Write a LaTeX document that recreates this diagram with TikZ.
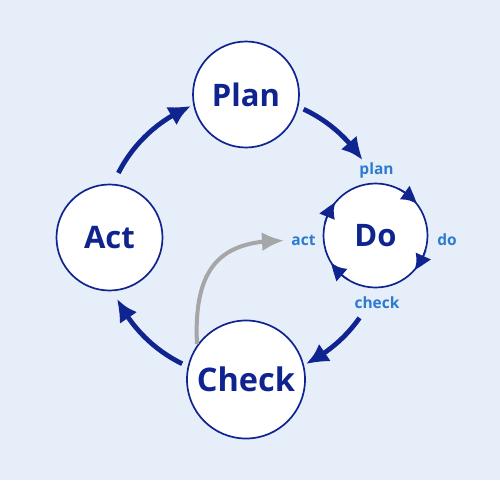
\documentclass[tikz,border=0pt]{standalone}
\usepackage{fontspec}
\setmainfont{Open Sans}
\usetikzlibrary{arrows.meta,bending}
\definecolor{bg}{HTML}{E6EEFA}
\definecolor{navy}{HTML}{102490}
\definecolor{lblue}{HTML}{2C7BD0}
\definecolor{arrgray}{HTML}{A6A6A6}
\begin{document}
\begin{tikzpicture}[x=1pt,y=1pt,
  phase/.style={circle,draw=navy,line width=1.7pt,fill=white,text=navy,
    font=\fontsize{31}{31}\selectfont\bfseries,inner sep=0pt},
  small/.style={text=lblue,font=\fontsize{15.5}{15.5}\selectfont\bfseries,inner sep=0pt},
  cyc/.style={draw=navy,line width=4.8pt,-{Latex[length=22pt,width=21pt,bend]}},
  mini/.style={draw=navy,line width=1.7pt,-{Latex[length=17pt,width=17pt,bend]}},
  back/.style={draw=arrgray,line width=4pt,-{Latex[length=22pt,width=19pt]}}]
\fill[bg] (0,0) rectangle (500,-480);
\useasboundingbox (0,0) rectangle (500,-480);
\node[phase,minimum size=106pt] (plan) at (246,-94.5) {Plan};
\node[phase,minimum size=106pt] (act) at (109.5,-237.5) {Act};
\node[phase,minimum size=118pt,font=\fontsize{32.5}{32.5}\selectfont\bfseries] (check) at (246,-379.5) {Check};
\node[phase,minimum size=104pt] (do) at (375.5,-235.5) {Do};
\coordinate (ctr) at (244,-237);
% cycle arrows
\draw[cyc] ([shift={(ctr)}]153:141) arc[start angle=153,end angle=112,radius=141];
\draw[cyc] ([shift={(ctr)}]65:141) arc[start angle=65,end angle=33,radius=141];
\draw[cyc] ([shift={(ctr)}]-35:141) arc[start angle=-35,end angle=-64,radius=141];
\draw[cyc] ([shift={(ctr)}]-116:141) arc[start angle=-116,end angle=-154,radius=141];
% mini arrows on Do
\draw[mini] ([shift={(do.center)}]64:52) arc[start angle=64,end angle=37,radius=52];
\draw[mini] ([shift={(do.center)}]-16:52) arc[start angle=-16,end angle=-42,radius=52];
\draw[mini] ([shift={(do.center)}]-122:52) arc[start angle=-122,end angle=-149,radius=52];
\draw[mini] ([shift={(do.center)}]167:52) arc[start angle=167,end angle=140,radius=52];
% labels
\node[small] (lplan) at (376.5,-170.5) {plan};
\node[small] (ldo) at (447,-239.5) {do};
\node[small] (lcheck) at (377,-302.5) {check};
\node[small] (lact) at (303.5,-240) {act};
% gray arrow
\coordinate (gs) at (197,-344);
\coordinate (ge) at (284,-240.5);
\draw[back] (gs) .. controls (193,-262) and (225,-240.5) .. (ge);
\end{tikzpicture}
\end{document}
